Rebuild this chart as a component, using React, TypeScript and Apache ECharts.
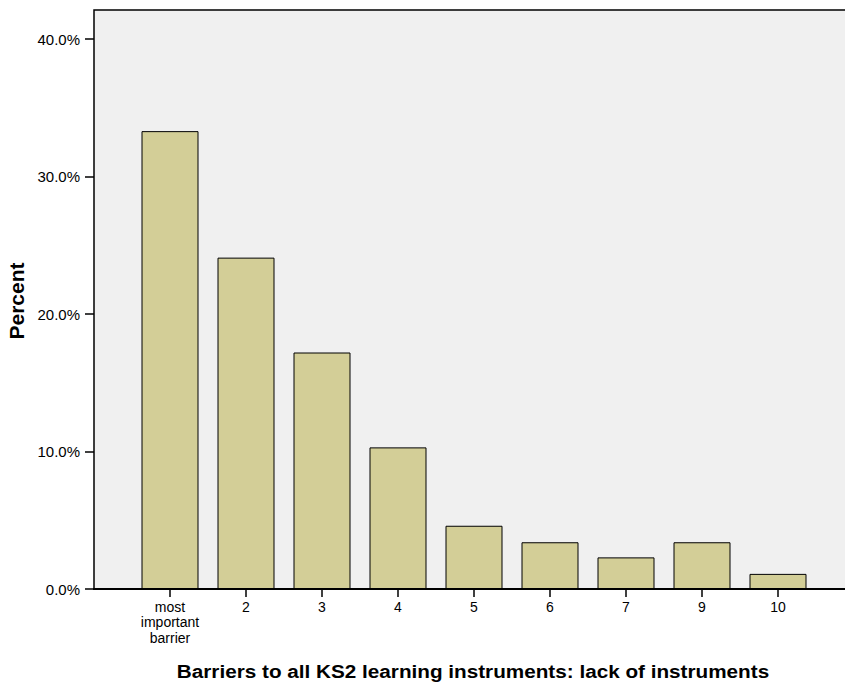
import React, { useEffect, useRef } from "react";
import * as echarts from "echarts";

const categories = ["most important barrier", "2", "3", "4", "5", "6", "7", "9", "10"];
const percentValues = [33.3, 24.1, 17.2, 10.3, 4.6, 3.4, 2.3, 3.4, 1.1];
const yTicks = [0, 10, 20, 30, 40];
const xTitle = "Barriers to all KS2 learning instruments: lack of instruments";
const yTitle = "Percent";

const FONT = '"Liberation Sans", Arial, Helvetica, sans-serif';
const NARROW = '"Liberation Sans Narrow", "Arial Narrow", "Liberation Sans", Arial, sans-serif';

export default function App() {
  const ref = useRef<HTMLDivElement>(null);
  useEffect(() => {
    document.body.style.margin = "0";
    if (!ref.current) return;
    const chart = echarts.init(ref.current, null, { renderer: "svg" });
    chart.setOption({
      animation: false,
      backgroundColor: "#ffffff",
      textStyle: { fontFamily: FONT },
      grid: { left: 132, right: 29, top: 39, bottom: 97, containLabel: false },
      xAxis: {
        type: "category",
        data: categories,
        axisLine: { show: false },
        axisTick: { show: true, alignWithLabel: true, length: 8, lineStyle: { color: "#000", width: 1.5 } },
        axisLabel: {
          color: "#000",
          fontSize: 14,
          lineHeight: 15.5,
          margin: 10,
          interval: 0,
          fontFamily: NARROW,
          formatter: (v: string) => v.split(" ").join("\n"),
        },
        splitLine: { show: false },
      },
      yAxis: {
        type: "value",
        min: yTicks[0],
        max: yTicks[yTicks.length - 1],
        interval: 10,
        offset: 38,
        axisLine: { show: false },
        axisTick: { show: true, length: 9, lineStyle: { color: "#000", width: 1.5 } },
        axisLabel: {
          color: "#000",
          fontSize: 15,
          margin: 14,
          fontFamily: NARROW,
          formatter: (v: number) => v.toFixed(1) + "%",
        },
        splitLine: { show: false },
      },
      series: [
        {
          type: "bar",
          data: percentValues,
          barWidth: 57,
          itemStyle: { color: "#d3ce97", borderColor: "#000", borderWidth: 1 },
          z: 5,
        },
      ],
      graphic: [
        {
          type: "rect",
          z: -10,
          shape: { x: 94, y: 10, width: 760, height: 579 },
          style: { fill: "#f0f0f0" },
          silent: true,
        },
        {
          type: "polyline",
          z: 100,
          shape: { points: [[94, 589], [94, 10], [845, 10]] },
          style: { stroke: "#000", lineWidth: 1.5, fill: null },
          silent: true,
        },
        {
          type: "line",
          z: 100,
          shape: { x1: 93, y1: 589, x2: 845, y2: 589 },
          style: { stroke: "#000", lineWidth: 2 },
          silent: true,
        },
        {
          type: "text",
          z: 100,
          x: 473,
          y: 671,
          scaleX: 1.09,
          style: {
            text: xTitle,
            font: `bold 19px ${FONT}`,
            fill: "#000",
            align: "center",
            verticalAlign: "middle",
            textAlign: "center",
            textVerticalAlign: "middle",
          },
        },
        {
          type: "text",
          z: 100,
          x: 17,
          y: 301,
          rotation: Math.PI / 2,
          scaleX: 1.05,
          style: {
            text: yTitle,
            font: `bold 20px ${FONT}`,
            fill: "#000",
            align: "center",
            verticalAlign: "middle",
            textAlign: "center",
            textVerticalAlign: "middle",
          },
        },
      ],
    });
    return () => chart.dispose();
  }, []);
  return <div ref={ref} style={{ width: 845, height: 686 }} />;
}
